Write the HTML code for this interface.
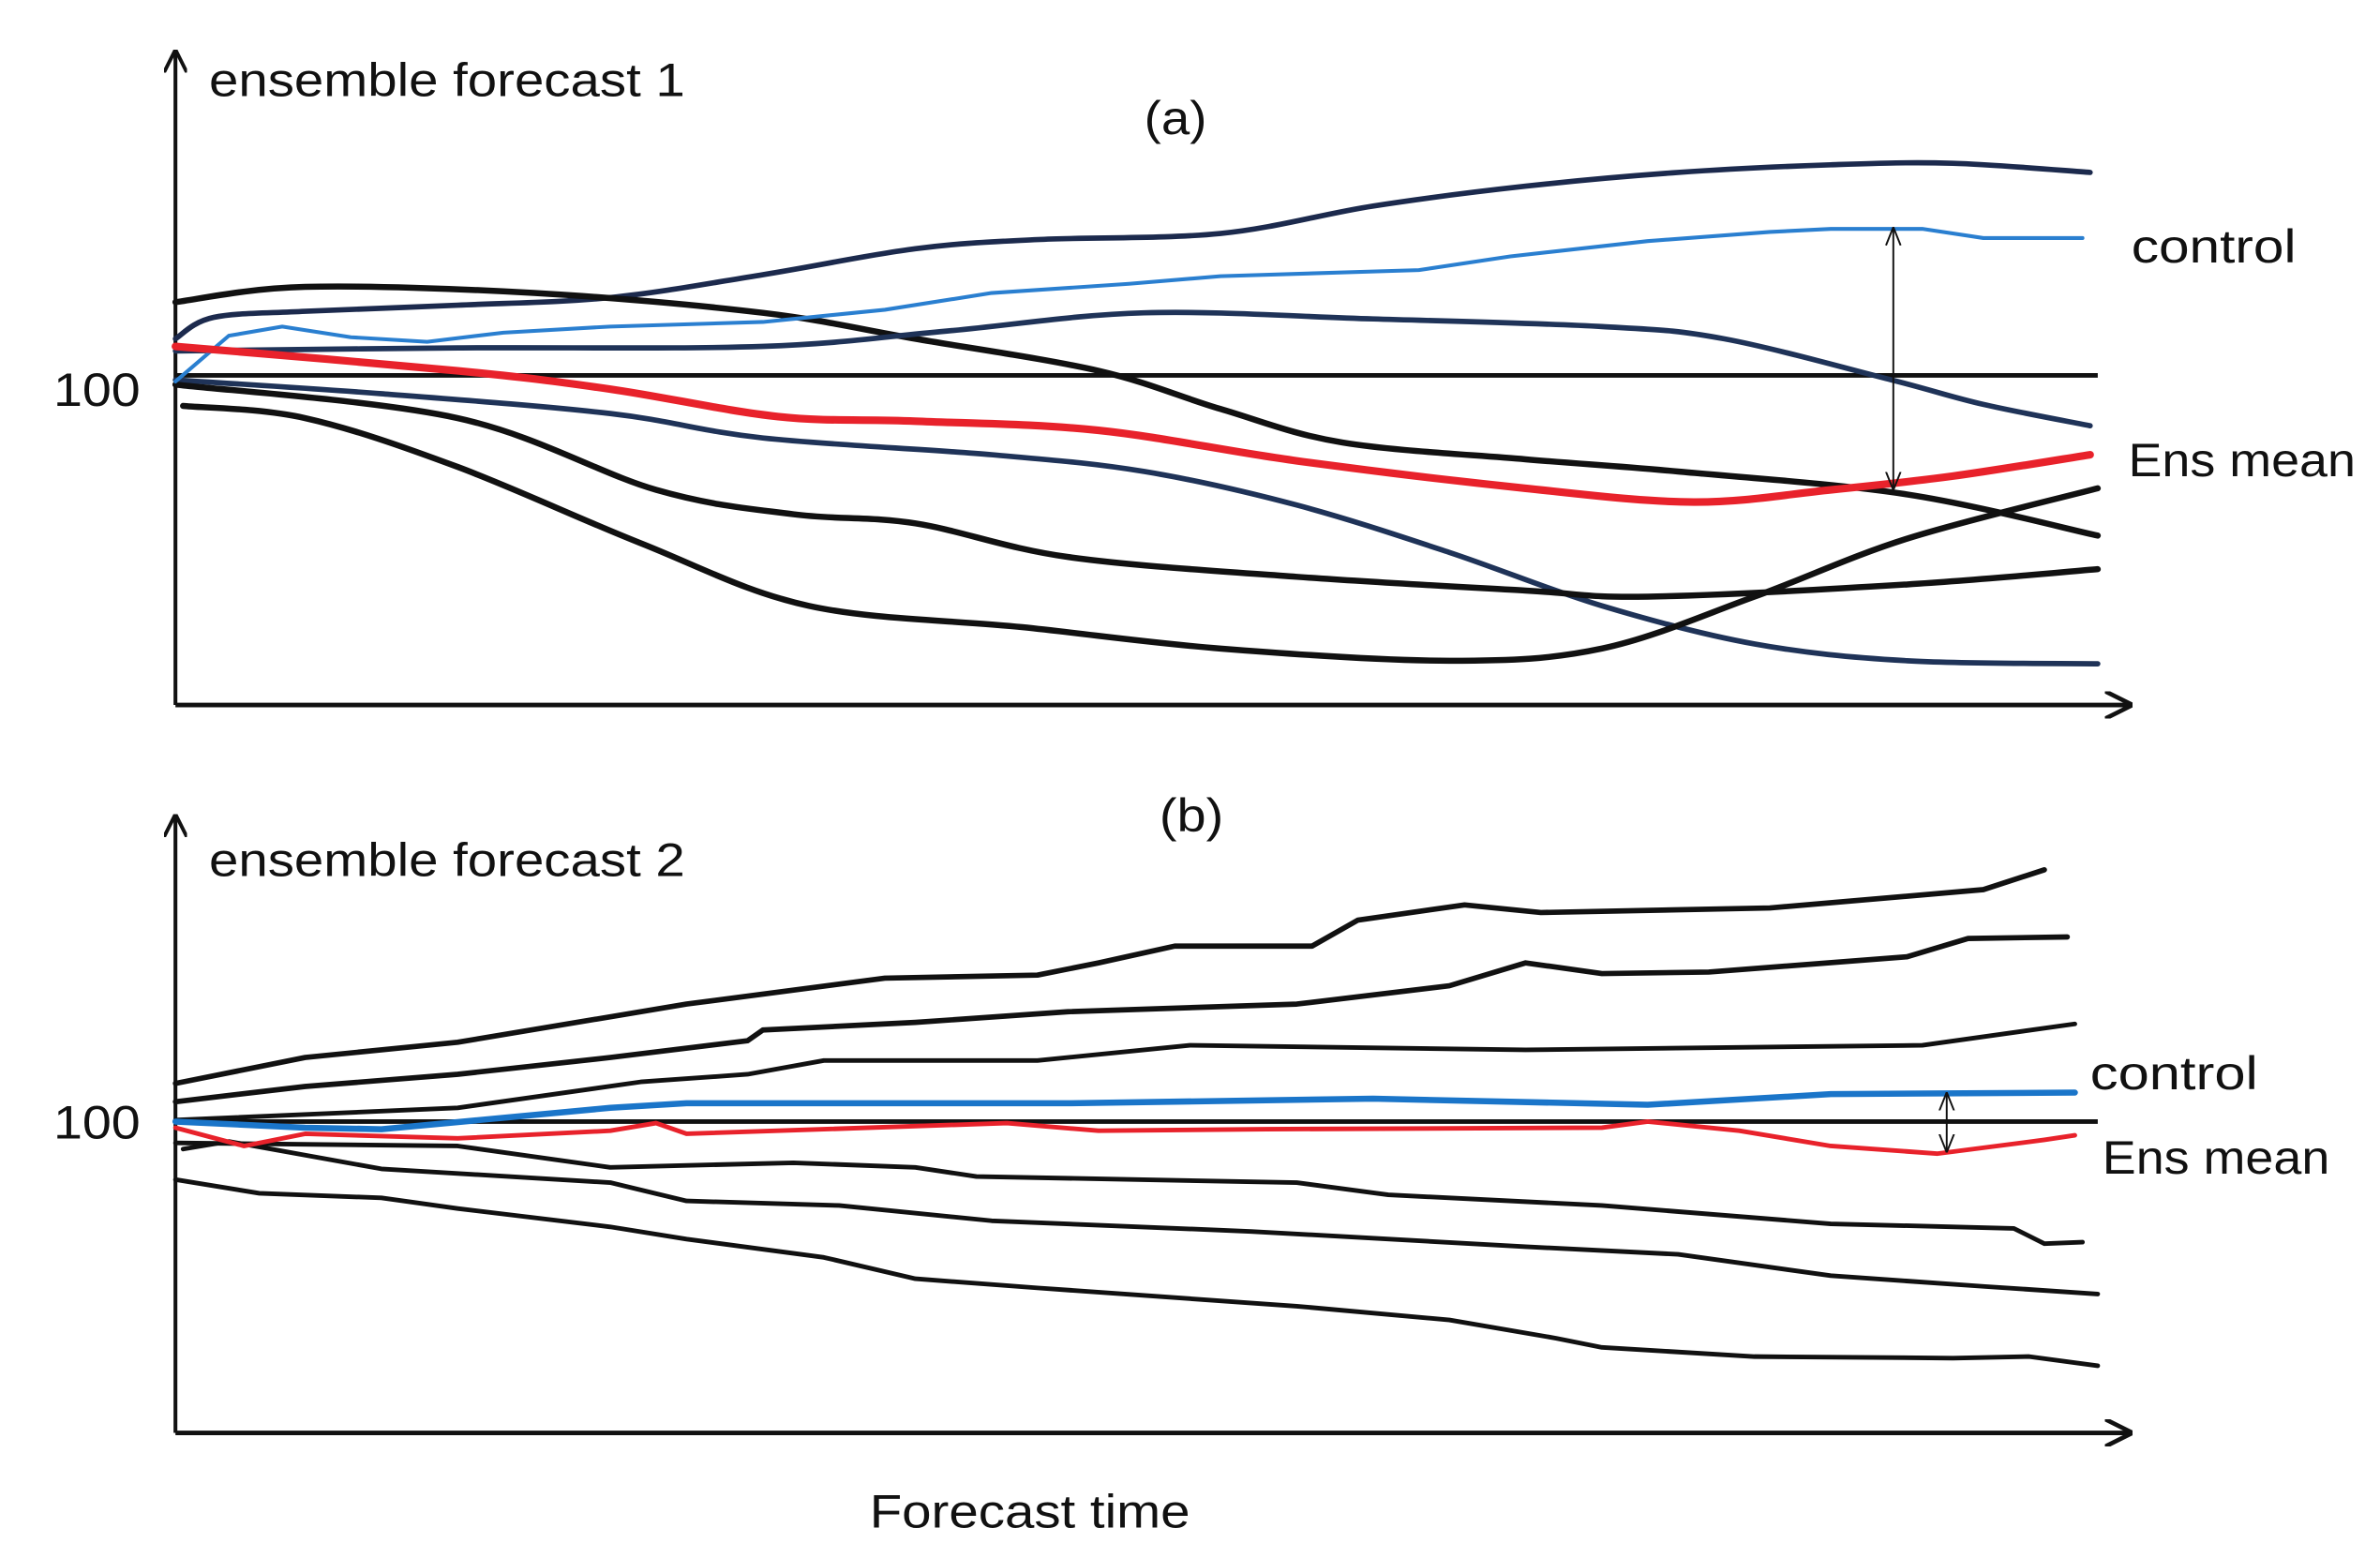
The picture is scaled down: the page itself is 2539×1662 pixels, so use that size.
<!DOCTYPE html>
<html><head><meta charset="utf-8"><style>
html,body{margin:0;padding:0;background:#fff;}
svg{display:block;}
text{font-family:"Liberation Sans",sans-serif;fill:#111;}
</style></head><body>
<svg id="chart" width="2539" height="1662" viewBox="0 0 1560 1021" preserveAspectRatio="none" xmlns="http://www.w3.org/2000/svg">
<defs>
<marker id="ah" viewBox="0 0 10 10" refX="9" refY="5" markerWidth="6" markerHeight="6" orient="auto-start-reverse"><path d="M0,0 L10,5 L0,10" fill="none" stroke="#111" stroke-width="1.6"/></marker>
<marker id="sa" viewBox="0 0 10 10" refX="9" refY="5" markerWidth="10" markerHeight="10" orient="auto-start-reverse"><path d="M0,1 L10,5 L0,9" fill="none" stroke="#111" stroke-width="1"/></marker>
</defs>
<g id="pa"></g>
<g id="pb"></g>
<text x="137" y="63" font-size="31" textLength="312" lengthAdjust="spacingAndGlyphs">ensemble forecast 1</text>
<text x="750" y="88" font-size="31" textLength="41" lengthAdjust="spacingAndGlyphs">(a)</text>
<text x="35" y="266" font-size="31" textLength="57" lengthAdjust="spacingAndGlyphs">100</text>
<text x="1397" y="172" font-size="31" textLength="108" lengthAdjust="spacingAndGlyphs">control</text>
<text x="1395" y="312" font-size="31" textLength="149" lengthAdjust="spacingAndGlyphs">Ens mean</text>
<text x="137" y="574" font-size="31" textLength="312" lengthAdjust="spacingAndGlyphs">ensemble forecast 2</text>
<text x="760" y="545" font-size="31" textLength="42" lengthAdjust="spacingAndGlyphs">(b)</text>
<text x="35" y="746" font-size="31" textLength="57" lengthAdjust="spacingAndGlyphs">100</text>
<text x="1370" y="714" font-size="31" textLength="110" lengthAdjust="spacingAndGlyphs">control</text>
<text x="1378" y="769" font-size="31" textLength="149" lengthAdjust="spacingAndGlyphs">Ens mean</text>
<text x="570" y="1001" font-size="31" textLength="210" lengthAdjust="spacingAndGlyphs">Forecast time</text>
</svg>
<script>
// Panel (a) data: time offsets and values (100 = reference line)
const aTopT=[0,25,85,185,285,385,485,565,685,785,885,985,1085,1165,1255];
const aTopV=[124,138,142,146,151,166,183,189,193,211,224,233,238,239,233];
const aCtrlT=[0,35,70,115,165,215,285,385,465,535,625,685,815,875,965,1045,1085,1145,1185,1250];
const aCtrlV=[96,126,132,125,122,128,132,135,143,154,160,165,169,178,188,194,196,196,190,190];
const aBlkAT=[0,85,235,385,485,605,685,765,885,985,1135,1260];
const aBlkAV=[148,158,154,141,124,103,78,56,45,37,22,-5];
const aNavMT=[0,185,385,505,635,785,935,1015,1125,1185,1255];
const aNavMV=[116,118,119,129,141,137,132,124,97,81,67];
const aMeanT=[0,185,285,395,485,605,735,885,995,1085,1165,1255];
const aMeanV=[119,103,91,73,70,64,44,26,17,25,34,48];
const aNavLT=[0,135,285,385,535,635,735,835,935,1035,1135,1260];
const aNavLV=[97,88,75,59,48,37,15,-16,-51,-76,-87,-89];
const aBlkBT=[0,185,315,405,485,585,735,885,965,1135,1260];
const aBlkBV=[94,72,25,9,3,-19,-32,-41,-45,-37,-27];
const aBlkCT=[5,85,185,305,415,555,685,835,935,1035,1135,1260];
const aBlkCV=[80,72,40,-10,-51,-65,-79,-87,-79,-45,-7,26];
// Panel (b) data
const bTopT=[0,85,185,335,465,565,605,655,745,775,845,895,1045,1185,1225];
const bTopV=[125,142,152,177,194,196,204,215,215,232,242,237,240,252,265];
const b2T=[0,85,185,285,375,385,485,585,735,835,885,935,1005,1135,1175,1240];
const b2V=[113,123,131,142,153,160,165,172,177,189,204,197,198,208,220,221];
const b3T=[0,185,305,375,425,565,665,885,1145,1245];
const b3V=[101,109,126,131,140,140,150,147,150,164];
const bCtrlT=[0,85,135,285,335,585,785,965,1085,1245];
const bCtrlV=[100,96,95,109,112,112,115,111,118,119];
const bMeanT=[0,45,85,185,285,315,335,545,605,715,935,965,1025,1085,1155,1225,1245];
const bMeanV=[96,84,92,89,94,99,92,99,94,95,96,100,94,84,79,88,91];
const bD1T=[0,185,285,405,485,525,735,795,935,1085,1205,1225,1250];
const bD1V=[86,84,70,73,70,64,60,52,45,33,30,20,21];
const bD2T=[5,35,135,285,335,435,535,705,885,985,1085,1185,1260];
const bD2V=[82,87,69,60,48,45,35,28,18,13,-1,-8,-13];
const bD3T=[0,55,135,185,285,335,425,485,565,735,835,905,935,1035,1165,1215,1260];
const bD3V=[62,53,50,43,31,23,11,-3,-9,-21,-30,-42,-48,-54,-55,-54,-60];

const NS="http://www.w3.org/2000/svg";
const xS=t=>115+t;
const yA=v=>246-(v-100);
const yB=v=>735-(v-100);
function smooth(p){let d=`M${p[0][0]},${p[0][1]}`;for(let i=0;i<p.length-1;i++){const p0=p[Math.max(0,i-1)],p1=p[i],p2=p[i+1],p3=p[Math.min(p.length-1,i+2)];d+=` C${p1[0]+(p2[0]-p0[0])/6},${p1[1]+(p2[1]-p0[1])/6} ${p2[0]-(p3[0]-p1[0])/6},${p2[1]-(p3[1]-p1[1])/6} ${p2[0]},${p2[1]}`;}return d;}
function lin(p){return p.map((q,i)=>(i?'L':'M')+q[0]+','+q[1]).join(' ');}
function line(g,T,V,ys,col,w,sm,name){
  const pts=T.map((t,i)=>[xS(t),ys(V[i])]);
  const el=document.createElementNS(NS,'path');
  el.setAttribute('d',sm?smooth(pts):lin(pts));
  el.setAttribute('fill','none');el.setAttribute('stroke',col);el.setAttribute('stroke-width',w);
  el.setAttribute('stroke-linejoin','round');el.setAttribute('stroke-linecap','round');
  
  
  g.appendChild(el);
}
function seg(g,x1,y1,x2,y2,w,name,m1,m2,mk){
  const el=document.createElementNS(NS,'line');
  el.setAttribute('x1',x1);el.setAttribute('y1',y1);el.setAttribute('x2',x2);el.setAttribute('y2',y2);
  el.setAttribute('stroke','#111');el.setAttribute('stroke-width',w);
  if(m1)el.setAttribute('marker-start','url(#'+mk+')');
  if(m2)el.setAttribute('marker-end','url(#'+mk+')');
  
  
  g.appendChild(el);
}
const pa=document.getElementById('pa'),pb=document.getElementById('pb');
seg(pa,115,462,115,34,2.5,'panel-a-y-axis',false,true,'ah');
seg(pa,115,462,1396,462,3,'panel-a-x-axis',false,true,'ah');
seg(pa,115,yA(100),1375,yA(100),3,'panel-a-reference-line');
line(pa,aTopT,aTopV,yA,'#1c2a4d',3.5,true,'member-top');
line(pa,aBlkAT,aBlkAV,yA,'#111',4,true,'member-black-a');
line(pa,aNavMT,aNavMV,yA,'#1f3358',3.5,true,'member-navy-mid');
line(pa,aNavLT,aNavLV,yA,'#1f3358',3.5,true,'member-navy-low');
line(pa,aBlkBT,aBlkBV,yA,'#111',4,true,'member-black-b');
line(pa,aBlkCT,aBlkCV,yA,'#111',4,true,'member-black-c');
line(pa,aCtrlT,aCtrlV,yA,'#2a7fd0',2.5,false,'control-line-a');
line(pa,aMeanT,aMeanV,yA,'#e8222b',5,true,'ens-mean-line-a');
seg(pa,1241,150,1241,320,1.2,'spread-arrow-a',true,true,'sa');
seg(pb,115,939,115,535,2.5,'panel-b-y-axis',false,true,'ah');
seg(pb,115,939,1396,939,3,'panel-b-x-axis',false,true,'ah');
seg(pb,115,yB(100),1375,yB(100),3,'panel-b-reference-line');
line(pb,bTopT,bTopV,yB,'#111',3.5,false,'member-b-top');
line(pb,b2T,b2V,yB,'#111',3.5,false,'member-b-2');
line(pb,b3T,b3V,yB,'#111',3,false,'member-b-3');
line(pb,bD1T,bD1V,yB,'#111',3,false,'member-b-down-1');
line(pb,bD2T,bD2V,yB,'#111',3,false,'member-b-down-2');
line(pb,bD3T,bD3V,yB,'#111',3,false,'member-b-down-3');
line(pb,bCtrlT,bCtrlV,yB,'#1a75c9',4,false,'control-line-b');
line(pb,bMeanT,bMeanV,yB,'#e8222b',3,false,'ens-mean-line-b');
seg(pb,1276,717,1276,754,1.2,'spread-arrow-b',true,true,'sa');
</script>
</body></html>
